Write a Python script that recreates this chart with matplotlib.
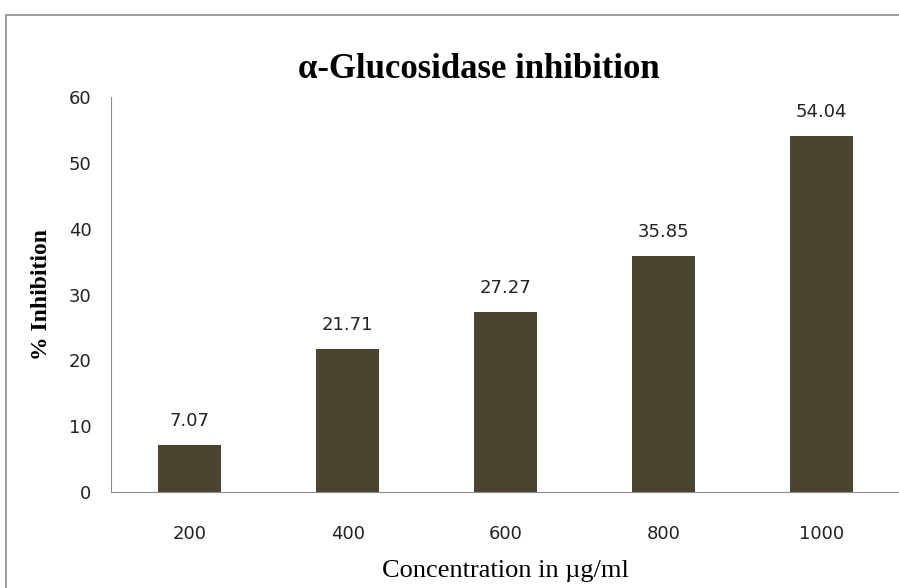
import matplotlib.pyplot as plt
from matplotlib.patches import Rectangle

plt.rcParams['font.family'] = ['DejaVu Sans']

# Data
concentrations = ['200', '400', '600', '800', '1000']
inhibition = [7.07, 21.71, 27.27, 35.85, 54.04]
y_ticks = [0, 10, 20, 30, 40, 50, 60]

fig = plt.figure(figsize=(8.99, 5.88), dpi=100)
ax = fig.add_axes([111 / 899, 96 / 588, 789 / 899, 395 / 588])

# grey frame around the chart area (runs off the right/bottom edge)
fig.patches.append(Rectangle((6 / 899, -0.1), 1.2, 1.1 - 15 / 588,
                             transform=fig.transFigure, fill=False,
                             edgecolor='#8c8c8c', linewidth=1.2))

x = range(len(concentrations))
ax.bar(x, inhibition, width=0.4, color='#4a4530')

for xi, val in zip(x, inhibition):
    ax.annotate(f'{val:.2f}', (xi, val), xytext=(0, 11), textcoords='offset points',
                ha='center', va='bottom', fontsize=13, color='#222222')

ax.set_xlim(-0.5, 4.5)
ax.set_ylim(0, 60)
ax.set_xticks(list(x))
ax.set_xticklabels(concentrations)
ax.set_yticks(y_ticks)

for side in ['top', 'right']:
    ax.spines[side].set_visible(False)
ax.spines['left'].set_color('#8c8c8c')
ax.spines['bottom'].set_color('#8c8c8c')
ax.tick_params(axis='both', length=0, labelsize=13, colors='#222222')
ax.tick_params(axis='x', pad=24)
ax.tick_params(axis='y', pad=14)

fig.text(479 / 899, 1 - 70 / 588, '\u03b1-Glucosidase inhibition', ha='center', va='center',
         fontsize=25, fontweight='bold', family='Liberation Serif')
ax.set_xlabel('Concentration in \u00b5g/ml', fontsize=19, family='Liberation Serif', labelpad=12)
ax.set_ylabel('% Inhibition', fontsize=17, fontweight='bold', family='Liberation Serif', labelpad=12)

plt.savefig('out.png', dpi=100)
